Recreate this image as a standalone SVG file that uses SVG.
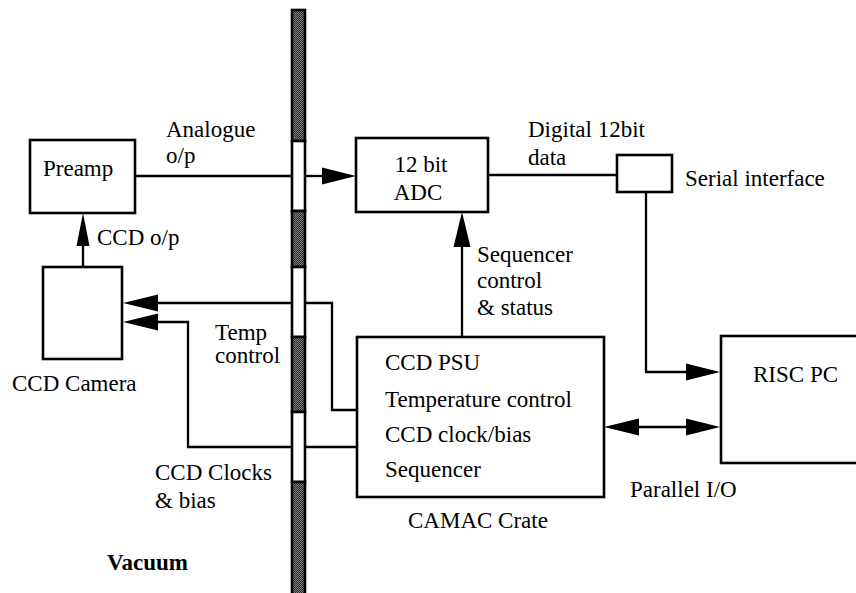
<svg xmlns="http://www.w3.org/2000/svg" width="856" height="593" viewBox="0 0 856 593" font-family="'Liberation Serif', 'Times New Roman', 'DejaVu Serif', serif">
  <style>
    text { font-family: 'Liberation Serif', 'Times New Roman', 'DejaVu Serif', serif; font-size: 23px; fill: #000; }
    .bold { font-weight: bold; }
    .box { fill: #fff; stroke: #000; stroke-width: 2.6; }
    .wire { fill: none; stroke: #000; stroke-width: 2.3; }
    .head { fill: #000; stroke: none; }
    .seal { fill: url(#stipple); stroke: #000; stroke-width: 2.6; }
    .port { fill: #fff; stroke: #000; stroke-width: 2.6; }
  </style>
  <defs>
    <pattern id="stipple" width="2" height="2" patternUnits="userSpaceOnUse">
      <rect width="2" height="2" fill="#2a2a2a"/>
      <rect x="0" y="0" width="1" height="1" fill="#808080"/>
      <rect x="1" y="1" width="1" height="1" fill="#808080"/>
    </pattern>
  </defs>
  <rect width="856" height="593" fill="#fff"/>

  <!-- vacuum wall with three feedthrough windows -->
  <g id="vacuum-wall">
    <rect class="seal" x="292" y="10" width="13" height="131"/>
    <rect class="port" x="292" y="141" width="13" height="70"/>
    <rect class="seal" x="292" y="211" width="13" height="56"/>
    <rect class="port" x="292" y="267" width="13" height="70"/>
    <rect class="seal" x="292" y="337" width="13" height="75"/>
    <rect class="port" x="292" y="412" width="13" height="70"/>
    <rect class="seal" x="292" y="482" width="13" height="120"/>
  </g>

  <!-- connectors -->
  <g id="connectors">
    <!-- analogue output: preamp to ADC through the wall -->
    <line class="wire" x1="135" y1="176" x2="291" y2="176"/>
    <line class="wire" x1="306" y1="176" x2="323" y2="176"/>
    <polygon class="head" points="356,176 322,167.5 322,184.5"/>
    <!-- CCD output: camera to preamp -->
    <line class="wire" x1="83" y1="267" x2="83" y2="245"/>
    <polygon class="head" points="83,213 76.5,246 89.5,246"/>
    <!-- digital data: ADC to serial interface -->
    <line class="wire" x1="488" y1="175" x2="617" y2="175"/>
    <!-- serial interface to RISC PC -->
    <polyline class="wire" points="646,192 646,372 687,372"/>
    <polygon class="head" points="720,372 686,363.5 686,380.5"/>
    <!-- parallel I/O between CAMAC crate and RISC PC -->
    <line class="wire" x1="638" y1="427" x2="687" y2="427"/>
    <polygon class="head" points="604,427 639,418.5 639,435.5"/>
    <polygon class="head" points="720,427 686,418.5 686,435.5"/>
    <!-- sequencer control: CAMAC crate to ADC -->
    <line class="wire" x1="462" y1="337" x2="462" y2="246"/>
    <polygon class="head" points="462,212 453.5,247 470.5,247"/>
    <!-- temperature control to camera -->
    <polyline class="wire" points="357,410 332,410 332,303 306,303"/>
    <line class="wire" x1="291" y1="303" x2="157" y2="303"/>
    <polygon class="head" points="123,303 158,294.5 158,311.5"/>
    <!-- clocks and bias to camera -->
    <line class="wire" x1="357" y1="447" x2="306" y2="447"/>
    <polyline class="wire" points="291,447 188,447 188,322 157,322"/>
    <polygon class="head" points="123,322 158,313.5 158,330.5"/>
  </g>

  <g id="preamp">
    <rect class="box" x="30" y="140" width="105" height="73"/>
    <text x="43" y="176">Preamp</text>
  </g>

  <g id="ccd-camera">
    <rect class="box" x="43" y="267" width="79" height="92"/>
    <text x="12" y="391">CCD Camera</text>
  </g>

  <g id="adc">
    <rect class="box" x="356" y="138" width="132" height="74"/>
    <text x="421" y="172" text-anchor="middle">12 bit</text>
    <text x="418" y="200" text-anchor="middle">ADC</text>
  </g>

  <g id="serial-interface">
    <rect class="box" x="617" y="155" width="55" height="37"/>
    <text x="685" y="186">Serial interface</text>
  </g>

  <g id="camac-crate">
    <rect class="box" x="357" y="337" width="247" height="160"/>
    <text x="385" y="370">CCD PSU</text>
    <text x="385" y="407">Temperature control</text>
    <text x="385" y="442">CCD clock/bias</text>
    <text x="385" y="477">Sequencer</text>
    <text x="408" y="528">CAMAC Crate</text>
  </g>

  <g id="risc-pc">
    <rect class="box" x="721" y="336" width="150" height="127"/>
    <text x="753" y="382">RISC PC</text>
  </g>

  <!-- connector labels -->
  <g id="labels">
    <text x="166" y="137">Analogue</text>
    <text x="166" y="163">o/p</text>
    <text x="97" y="245">CCD o/p</text>
    <text x="215" y="340">Temp</text>
    <text x="215" y="363">control</text>
    <text x="155" y="480">CCD Clocks</text>
    <text x="155" y="508">&amp; bias</text>
    <text class="bold" x="107" y="570">Vacuum</text>
    <text x="528" y="137">Digital 12bit</text>
    <text x="528" y="165">data</text>
    <text x="477" y="262">Sequencer</text>
    <text x="477" y="288">control</text>
    <text x="477" y="315">&amp; status</text>
    <text x="630" y="497">Parallel I/O</text>
  </g>
</svg>
